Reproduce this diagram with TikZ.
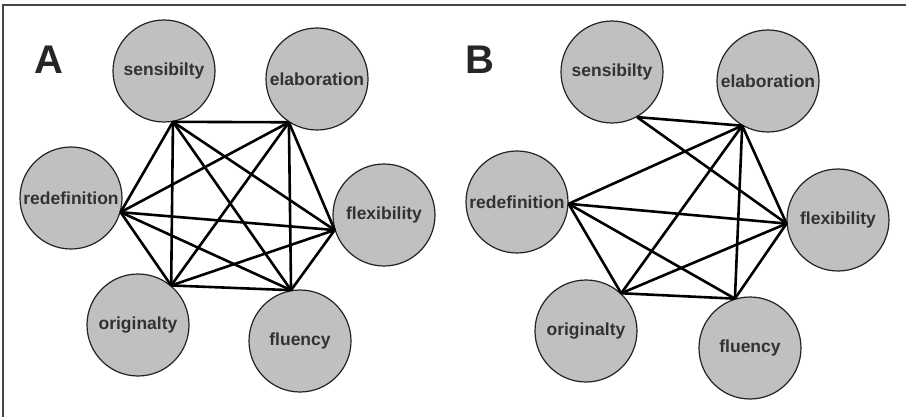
\documentclass[tikz,border=0pt]{standalone}
\usepackage{fontspec}
\setmainfont{Liberation Sans}
\definecolor{discfill}{RGB}{192,192,192}
\definecolor{discline}{RGB}{35,35,35}
\definecolor{labeltext}{RGB}{50,50,50}
\definecolor{framegray}{RGB}{70,70,70}
\begin{document}
\begin{tikzpicture}[x=1pt,y=-1pt,
    skill/.style={circle,draw=discline,line width=1.2pt,fill=discfill,
      minimum size=102pt,inner sep=0pt,text=labeltext,
      font=\bfseries\fontsize{17.5}{20}\selectfont},
    panel/.style={text=black!85,font=\bfseries\fontsize{40}{40}\selectfont},
    link/.style={line width=2.6pt}]
  \useasboundingbox (0,0) rectangle (906,417);
  \draw[framegray,line width=2pt] (3,417) -- (3,5) -- (906,5);
  % panel A
  \draw
    (49,60) node[panel] (A){A}
    (164,71) node[skill] (a-sens){sensibilty}
    (317,79) node[skill] (a-elab){elaboration}
    (71,198) node[skill] (a-redef){redefinition}
    (384,215) node[skill] (a-flex){flexibility}
    (138,325) node[skill] (a-orig){originalty}
    (300,341) node[skill] (a-flu){fluency};
  \coordinate (as) at (a-sens.-80);
  \coordinate (ae) at (a-elab.-123);
  \coordinate (ar) at (a-redef.-16);
  \coordinate (ax) at (a-flex.-163);
  \coordinate (ao) at (a-orig.50);
  \coordinate (af) at (a-flu.100);
  \begin{scope}[link]
    \draw (as) to (ae);
    \draw (as) to (ar);
    \draw (as) to (ax);
    \draw (as) to (ao);
    \draw (as) to (af);
    \draw (ae) to (ar);
    \draw (ae) to (ax);
    \draw (ae) to (ao);
    \draw (ae) to (af);
    \draw (ar) to (ax);
    \draw (ar) to (ao);
    \draw (ar) to (af);
    \draw (ax) to (ao);
    \draw (ax) to (af);
    \draw (ao) to (af);
  \end{scope}
  % panel B
  \draw
    (480,60) node[panel] (B){B}
    (612,72) node[skill] (b-sens){sensibilty}
    (768,81) node[skill] (b-elab){elaboration}
    (517,202) node[skill] (b-redef){redefinition}
    (838,220) node[skill] (b-flex){flexibility}
    (586,331) node[skill] (b-orig){originalty}
    (750,348) node[skill] (b-flu){fluency};
  \coordinate (bs) at (b-sens.-61);
  \coordinate (be) at (b-elab.-120);
  \coordinate (br) at (b-redef.-2);
  \coordinate (bx) at (b-flex.-176);
  \coordinate (bo) at (b-orig.47);
  \coordinate (bf) at (b-flu.107);
  \begin{scope}[link]
    \draw (bs) to (be);
    \draw (bs) to (bx);
    \draw (be) to (br);
    \draw (be) to (bx);
    \draw (be) to (bo);
    \draw (be) to (bf);
    \draw (br) to (bx);
    \draw (br) to (bo);
    \draw (br) to (bf);
    \draw (bx) to (bo);
    \draw (bx) to (bf);
    \draw (bo) to (bf);
  \end{scope}
\end{tikzpicture}
\end{document}
